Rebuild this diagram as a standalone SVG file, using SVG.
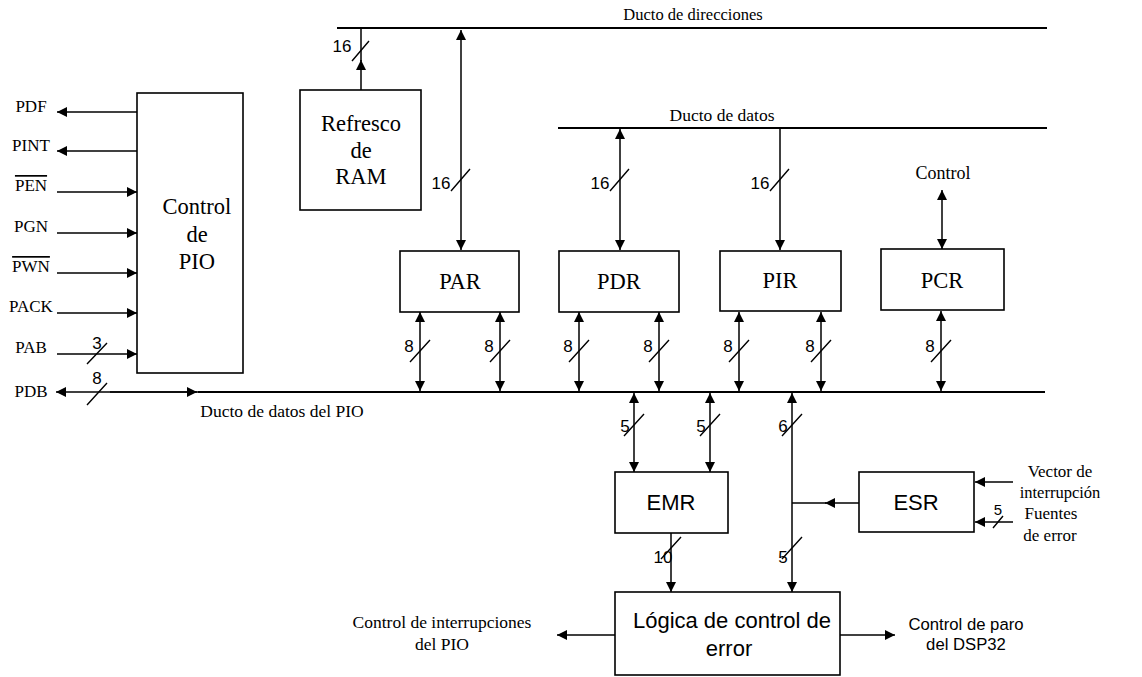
<svg xmlns="http://www.w3.org/2000/svg" width="1142" height="677" viewBox="0 0 1142 677">
<style>
.box{fill:#fff;stroke:#000;stroke-width:1.6}
.bus{stroke:#000;stroke-width:2;fill:none}
.ln{stroke:#000;stroke-width:1.5;fill:none}
.sl{stroke:#000;stroke-width:1.4;fill:none}
.serif{font-family:"Liberation Serif","Times New Roman",serif;fill:#000}
.sans{font-family:"Liberation Sans",Arial,sans-serif;fill:#000}
.big{font-size:22.5px}
.sig{font-size:17px}
.num{font-size:17px}
.ov{text-decoration:overline}
</style>
<defs>
<marker id="ah" viewBox="0 0 10 10" refX="10" refY="5" markerWidth="11" markerHeight="10" markerUnits="userSpaceOnUse" orient="auto-start-reverse">
<path d="M0,0 L10,5 L0,10 z" fill="#000"/>
</marker>
</defs>
<rect width="1142" height="677" fill="#fff"/>

<g id="connectors">
<line class="bus" x1="337" y1="28" x2="1047" y2="28"/>
<line class="bus" x1="558" y1="128" x2="1047" y2="128"/>
<line class="bus" x1="198" y1="392" x2="1045" y2="392"/>
<line class="ln" x1="198" y1="392" x2="56" y2="392" marker-end="url(#ah)"/>
<line class="ln" x1="110" y1="392" x2="197" y2="392" marker-end="url(#ah)"/>
<line class="ln" x1="361" y1="90" x2="361" y2="60" marker-end="url(#ah)"/>
<line class="ln" x1="361" y1="61" x2="361" y2="28"/>
<line class="ln" x1="461" y1="30" x2="461" y2="250" marker-start="url(#ah)" marker-end="url(#ah)"/>
<line class="ln" x1="620" y1="129" x2="620" y2="250" marker-start="url(#ah)" marker-end="url(#ah)"/>
<line class="ln" x1="780" y1="129" x2="780" y2="250" marker-end="url(#ah)"/>
<line class="ln" x1="942" y1="190" x2="942" y2="249" marker-start="url(#ah)" marker-end="url(#ah)"/>
<line class="ln" x1="420" y1="312" x2="420" y2="391" marker-start="url(#ah)" marker-end="url(#ah)"/>
<line class="ln" x1="500" y1="312" x2="500" y2="391" marker-start="url(#ah)" marker-end="url(#ah)"/>
<line class="ln" x1="579" y1="312" x2="579" y2="391" marker-start="url(#ah)" marker-end="url(#ah)"/>
<line class="ln" x1="659" y1="312" x2="659" y2="391" marker-start="url(#ah)" marker-end="url(#ah)"/>
<line class="ln" x1="739" y1="312" x2="739" y2="391" marker-start="url(#ah)" marker-end="url(#ah)"/>
<line class="ln" x1="821" y1="312" x2="821" y2="391" marker-start="url(#ah)" marker-end="url(#ah)"/>
<line class="ln" x1="941" y1="311" x2="941" y2="391" marker-start="url(#ah)" marker-end="url(#ah)"/>
<line class="ln" x1="634" y1="393" x2="634" y2="472" marker-start="url(#ah)" marker-end="url(#ah)"/>
<line class="ln" x1="710" y1="393" x2="710" y2="472" marker-start="url(#ah)" marker-end="url(#ah)"/>
<line class="ln" x1="671" y1="533" x2="671" y2="592" marker-end="url(#ah)"/>
<line class="ln" x1="792" y1="393" x2="792" y2="592" marker-start="url(#ah)" marker-end="url(#ah)"/>
<line class="ln" x1="859" y1="503" x2="825" y2="503" marker-end="url(#ah)"/>
<line class="ln" x1="826" y1="503" x2="792" y2="503"/>
<line class="ln" x1="1013" y1="482" x2="975" y2="482" marker-end="url(#ah)"/>
<line class="ln" x1="1013" y1="522" x2="975" y2="522" marker-end="url(#ah)"/>
<line class="ln" x1="615" y1="635" x2="557" y2="635" marker-end="url(#ah)"/>
<line class="ln" x1="840" y1="635" x2="895" y2="635" marker-end="url(#ah)"/>
<line class="ln" x1="137" y1="112" x2="57" y2="112" marker-end="url(#ah)"/>
<line class="ln" x1="137" y1="151" x2="57" y2="151" marker-end="url(#ah)"/>
<line class="ln" x1="57" y1="192" x2="137" y2="192" marker-end="url(#ah)"/>
<line class="ln" x1="57" y1="233" x2="137" y2="233" marker-end="url(#ah)"/>
<line class="ln" x1="57" y1="273" x2="137" y2="273" marker-end="url(#ah)"/>
<line class="ln" x1="57" y1="313" x2="137" y2="313" marker-end="url(#ah)"/>
<line class="ln" x1="57" y1="354" x2="137" y2="354" marker-end="url(#ah)"/>
<path class="sl" d="M352,61 L369,41 M451,191 L470,169 M610,191 L629,169 M770,191 L789,169 M410,362 L430,340 M490,362 L510,340 M569,362 L589,340 M649,362 L669,340 M729,362 L749,340 M811,362 L831,340 M931,362 L951,340 M624,436 L644,414 M700,436 L720,414 M782,436 L802,414 M661,559 L681,537 M782,559 L802,537 M87,364 L107,343 M87,405 L107,383 M993,528 L1003,516"/>
</g>

<g id="labels">
<text class="serif" font-size="16.5" x="693" y="20" text-anchor="middle">Ducto de direcciones</text>
<text class="serif" font-size="17.5" x="722" y="121" text-anchor="middle">Ducto de datos</text>
<text class="serif" font-size="18" x="943" y="179" text-anchor="middle">Control</text>
<text class="serif" font-size="17.5" x="282" y="417" text-anchor="middle">Ducto de datos del PIO</text>
<text class="serif sig" x="31" y="112" text-anchor="middle">PDF</text>
<text class="serif sig" x="31" y="151" text-anchor="middle">PINT</text>
<text class="serif sig ov" x="31" y="191" text-anchor="middle">PEN</text>
<text class="serif sig" x="31" y="232" text-anchor="middle">PGN</text>
<text class="serif sig ov" x="31" y="272" text-anchor="middle">PWN</text>
<text class="serif sig" x="31" y="312" text-anchor="middle">PACK</text>
<text class="serif sig" x="31" y="353" text-anchor="middle">PAB</text>
<text class="serif sig" x="31" y="397" text-anchor="middle">PDB</text>
<text class="sans num" x="342" y="52" text-anchor="middle">16</text>
<text class="sans num" x="441" y="189" text-anchor="middle">16</text>
<text class="sans num" x="600" y="189" text-anchor="middle">16</text>
<text class="sans num" x="760" y="189" text-anchor="middle">16</text>
<text class="sans num" x="409" y="352" text-anchor="middle">8</text>
<text class="sans num" x="489" y="352" text-anchor="middle">8</text>
<text class="sans num" x="568" y="352" text-anchor="middle">8</text>
<text class="sans num" x="648" y="352" text-anchor="middle">8</text>
<text class="sans num" x="728" y="352" text-anchor="middle">8</text>
<text class="sans num" x="810" y="352" text-anchor="middle">8</text>
<text class="sans num" x="930" y="352" text-anchor="middle">8</text>
<text class="sans num" x="625" y="432" text-anchor="middle">5</text>
<text class="sans num" x="701" y="432" text-anchor="middle">5</text>
<text class="sans num" x="783" y="432" text-anchor="middle">6</text>
<text class="sans num" x="663" y="563" text-anchor="middle">10</text>
<text class="sans num" x="783" y="563" text-anchor="middle">5</text>
<text class="sans num" x="97" y="349" text-anchor="middle">3</text>
<text class="sans num" x="97" y="384" text-anchor="middle">8</text>
<text class="sans" font-size="15" x="998" y="515" text-anchor="middle">5</text>
<text class="serif" font-size="17" x="1060" y="477" text-anchor="middle">Vector de</text>
<text class="serif" font-size="16.5" x="1060" y="498" text-anchor="middle">interrupción</text>
<text class="serif" font-size="17" x="1051" y="519" text-anchor="middle">Fuentes</text>
<text class="serif" font-size="17" x="1050" y="541" text-anchor="middle">de error</text>
<text class="serif" font-size="17.5" x="442" y="628" text-anchor="middle">Control de interrupciones</text>
<text class="serif" font-size="17.5" x="442" y="650" text-anchor="middle">del PIO</text>
<text class="sans" font-size="16.7" x="966" y="630" text-anchor="middle">Control de paro</text>
<text class="sans" font-size="16.7" x="966" y="650" text-anchor="middle">del DSP32</text>
</g>

<g id="pio">
<rect class="box" x="137" y="93" width="106" height="280"/>
<text class="serif big" x="197" y="214" text-anchor="middle">Control</text>
<text class="serif big" x="197" y="242" text-anchor="middle">de</text>
<text class="serif big" x="197" y="269" text-anchor="middle">PIO</text>
</g>
<g id="refresco">
<rect class="box" x="300" y="90" width="121" height="120"/>
<text class="serif big" x="361" y="131" text-anchor="middle">Refresco</text>
<text class="serif big" x="361" y="158" text-anchor="middle">de</text>
<text class="serif big" x="361" y="184" text-anchor="middle">RAM</text>
</g>
<g id="par">
<rect class="box" x="400" y="251" width="119" height="61"/>
<text class="serif big" x="460" y="289" text-anchor="middle">PAR</text>
</g>
<g id="pdr">
<rect class="box" x="559" y="251" width="120" height="61"/>
<text class="serif big" x="619" y="289" text-anchor="middle">PDR</text>
</g>
<g id="pir">
<rect class="box" x="720" y="251" width="121" height="60"/>
<text class="serif big" x="780" y="288" text-anchor="middle">PIR</text>
</g>
<g id="pcr">
<rect class="box" x="881" y="249" width="123" height="61"/>
<text class="serif big" x="942" y="288" text-anchor="middle">PCR</text>
</g>
<g id="emr">
<rect class="box" x="615" y="472" width="113" height="61"/>
<text class="sans" font-size="22" x="671" y="510" text-anchor="middle">EMR</text>
</g>
<g id="esr">
<rect class="box" x="859" y="472" width="115" height="60"/>
<text class="sans" font-size="22" x="916" y="510" text-anchor="middle">ESR</text>
</g>
<g id="logica">
<rect class="box" x="615" y="592" width="225" height="83"/>
<text class="sans" font-size="22" x="732" y="628" text-anchor="middle">Lógica de control de</text>
<text class="sans" font-size="22" x="729" y="656" text-anchor="middle">error</text>
</g>
</svg>
